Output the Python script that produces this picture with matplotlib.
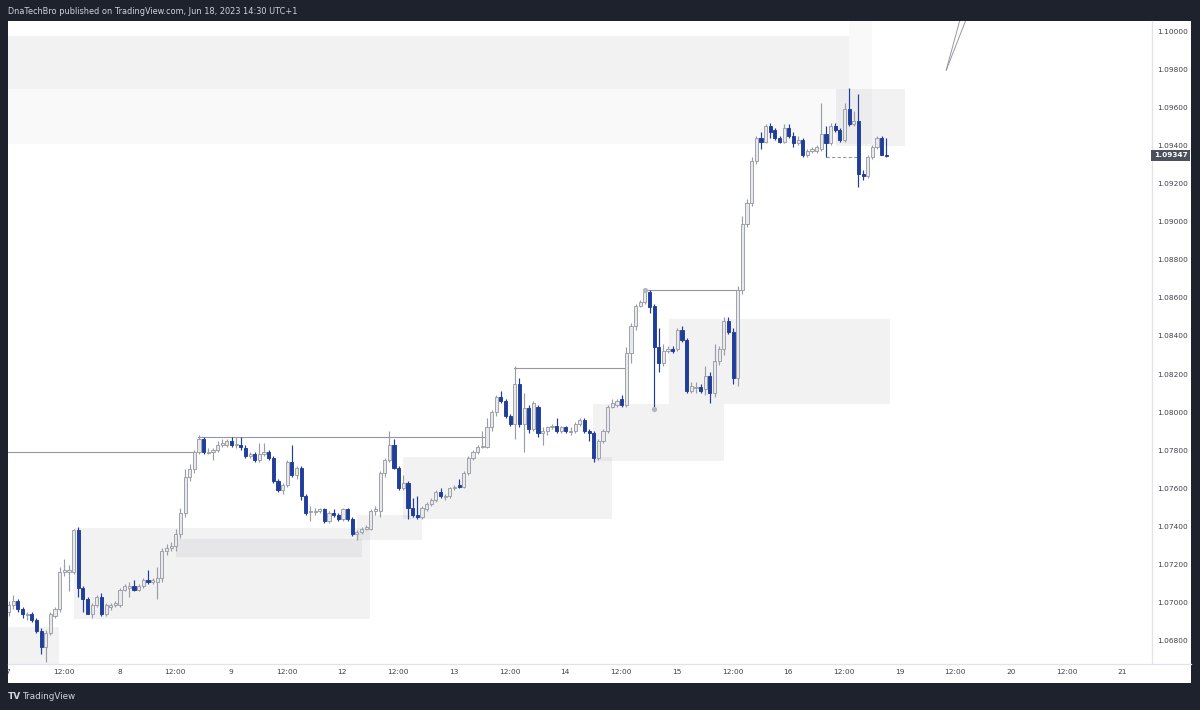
import matplotlib
matplotlib.use("Agg")
import matplotlib.pyplot as plt
from matplotlib.patches import Rectangle
import matplotlib.transforms as mtransforms

# ---------------- data (EURUSD 1h) ----------------
opens = [
    1.0695, 1.0699, 1.0701, 1.0697, 1.0694, 1.0694, 1.0691, 1.0685, 1.0677, 1.0684,
    1.0693, 1.0697, 1.0716, 1.0716, 1.0716, 1.0738, 1.0708, 1.0702, 1.0694, 1.0699,
    1.0703, 1.0694, 1.0698, 1.0699, 1.0699, 1.0707, 1.0708, 1.0709, 1.0707, 1.0709,
    1.0712, 1.0711, 1.0711, 1.0713, 1.0727, 1.0729, 1.0730, 1.0736, 1.0747, 1.0766,
    1.0770, 1.0779, 1.0786, 1.0779, 1.0779, 1.0780, 1.0783, 1.0783, 1.0785, 1.0783,
    1.0783, 1.0781, 1.0777, 1.0778, 1.0775, 1.0778, 1.0779, 1.0776, 1.0764, 1.0759,
    1.0762, 1.0774, 1.0767, 1.0771, 1.0756, 1.0748, 1.0748, 1.0748, 1.0749, 1.0743,
    1.0747, 1.0746, 1.0744, 1.0749, 1.0744, 1.0736, 1.0737, 1.0739, 1.0739, 1.0748,
    1.0748, 1.0768, 1.0775, 1.0783, 1.0771, 1.0760, 1.0763, 1.0750, 1.0746, 1.0745,
    1.0749, 1.0752, 1.0754, 1.0758, 1.0756, 1.0756, 1.0760, 1.0762, 1.0761, 1.0768,
    1.0776, 1.0779, 1.0782, 1.0782, 1.0792, 1.0800, 1.0808, 1.0806, 1.0798, 1.0794,
    1.0815, 1.0794, 1.0802, 1.0791, 1.0803, 1.0789, 1.0790, 1.0792, 1.0793, 1.0790,
    1.0792, 1.0790, 1.0790, 1.0794, 1.0796, 1.0790, 1.0789, 1.0776, 1.0785, 1.0790,
    1.0803, 1.0804, 1.0807, 1.0804, 1.0831, 1.0845, 1.0856, 1.0858, 1.0863, 1.0856,
    1.0834, 1.0826, 1.0832, 1.0833, 1.0833, 1.0843, 1.0838, 1.0811, 1.0813, 1.0813,
    1.0812, 1.0819, 1.0810, 1.0827, 1.0833, 1.0848, 1.0842, 1.0818, 1.0864, 1.0899,
    1.0910, 1.0932, 1.0944, 1.0942, 1.0950, 1.0948, 1.0944, 1.0942, 1.0949, 1.0945,
    1.0941, 1.0943, 1.0935, 1.0937, 1.0937, 1.0938, 1.0946, 1.0941, 1.0950, 1.0948,
    1.0943, 1.0959, 1.0951, 1.0953, 1.0925, 1.0924, 1.0934, 1.0939, 1.0944, 1.0935,
]
highs = [
    1.0701, 1.0704, 1.0702, 1.0698, 1.0695, 1.0695, 1.0692, 1.0687, 1.0686, 1.0695,
    1.0698, 1.0719, 1.0723, 1.0720, 1.0739, 1.0740, 1.0709, 1.0703, 1.0700, 1.0704,
    1.0705, 1.0700, 1.0700, 1.0701, 1.0708, 1.0710, 1.0711, 1.0712, 1.0710, 1.0713,
    1.0717, 1.0713, 1.0719, 1.0729, 1.0731, 1.0732, 1.0739, 1.0750, 1.0770, 1.0773,
    1.0780, 1.0788, 1.0787, 1.0781, 1.0781, 1.0785, 1.0786, 1.0786, 1.0787, 1.0787,
    1.0787, 1.0783, 1.0779, 1.0779, 1.0784, 1.0784, 1.0780, 1.0777, 1.0765, 1.0763,
    1.0775, 1.0783, 1.0772, 1.0772, 1.0757, 1.0751, 1.0750, 1.0750, 1.0750, 1.0748,
    1.0749, 1.0747, 1.0750, 1.0750, 1.0745, 1.0738, 1.0740, 1.0741, 1.0749, 1.0751,
    1.0769, 1.0776, 1.0790, 1.0786, 1.0772, 1.0767, 1.0764, 1.0755, 1.0756, 1.0751,
    1.0753, 1.0755, 1.0759, 1.0760, 1.0757, 1.0761, 1.0762, 1.0765, 1.0769, 1.0777,
    1.0780, 1.0783, 1.0790, 1.0797, 1.0801, 1.0809, 1.0811, 1.0807, 1.0799, 1.0824,
    1.0818, 1.0810, 1.0804, 1.0806, 1.0804, 1.0792, 1.0793, 1.0794, 1.0797, 1.0793,
    1.0793, 1.0792, 1.0795, 1.0797, 1.0797, 1.0791, 1.0790, 1.0786, 1.0791, 1.0804,
    1.0807, 1.0807, 1.0809, 1.0834, 1.0847, 1.0857, 1.0859, 1.0864, 1.0864, 1.0857,
    1.0844, 1.0836, 1.0835, 1.0835, 1.0844, 1.0845, 1.0839, 1.0816, 1.0816, 1.0815,
    1.0824, 1.0821, 1.0836, 1.0835, 1.0850, 1.0850, 1.0844, 1.0866, 1.0903, 1.0912,
    1.0934, 1.0945, 1.0947, 1.0951, 1.0952, 1.0949, 1.0945, 1.0951, 1.0951, 1.0947,
    1.0945, 1.0944, 1.0938, 1.0939, 1.0940, 1.0962, 1.0950, 1.0952, 1.0952, 1.0949,
    1.0962, 1.0970, 1.0958, 1.0967, 1.0927, 1.0935, 1.0940, 1.0945, 1.0945, 1.0944,
]
lows = [
    1.0693, 1.0697, 1.0695, 1.0692, 1.0691, 1.0690, 1.0684, 1.0673, 1.0669, 1.0683,
    1.0692, 1.0695, 1.0714, 1.0706, 1.0715, 1.0703, 1.0695, 1.0694, 1.0692, 1.0698,
    1.0693, 1.0693, 1.0696, 1.0698, 1.0698, 1.0706, 1.0703, 1.0706, 1.0706, 1.0708,
    1.0710, 1.0710, 1.0702, 1.0711, 1.0725, 1.0727, 1.0727, 1.0734, 1.0745, 1.0764,
    1.0768, 1.0778, 1.0778, 1.0778, 1.0775, 1.0779, 1.0782, 1.0782, 1.0782, 1.0781,
    1.0780, 1.0776, 1.0776, 1.0774, 1.0774, 1.0777, 1.0775, 1.0763, 1.0758, 1.0757,
    1.0761, 1.0766, 1.0765, 1.0754, 1.0746, 1.0743, 1.0746, 1.0747, 1.0742, 1.0742,
    1.0745, 1.0743, 1.0743, 1.0743, 1.0735, 1.0733, 1.0736, 1.0738, 1.0738, 1.0746,
    1.0745, 1.0766, 1.0774, 1.0770, 1.0759, 1.0759, 1.0744, 1.0745, 1.0744, 1.0744,
    1.0748, 1.0751, 1.0753, 1.0755, 1.0754, 1.0755, 1.0759, 1.0760, 1.0760, 1.0767,
    1.0775, 1.0778, 1.0781, 1.0781, 1.0790, 1.0798, 1.0805, 1.0797, 1.0793, 1.0786,
    1.0792, 1.0779, 1.0789, 1.0790, 1.0787, 1.0783, 1.0788, 1.0791, 1.0789, 1.0789,
    1.0789, 1.0788, 1.0789, 1.0793, 1.0789, 1.0785, 1.0774, 1.0775, 1.0784, 1.0789,
    1.0802, 1.0803, 1.0803, 1.0803, 1.0826, 1.0843, 1.0855, 1.0857, 1.0852, 1.0801,
    1.0821, 1.0824, 1.0831, 1.0831, 1.0832, 1.0837, 1.0810, 1.0810, 1.0810, 1.0810,
    1.0809, 1.0805, 1.0808, 1.0825, 1.0830, 1.0841, 1.0815, 1.0814, 1.0862, 1.0897,
    1.0908, 1.0930, 1.0938, 1.0941, 1.0944, 1.0943, 1.0941, 1.0941, 1.0944, 1.0939,
    1.0940, 1.0934, 1.0934, 1.0936, 1.0936, 1.0937, 1.0934, 1.0940, 1.0947, 1.0942,
    1.0942, 1.0950, 1.0950, 1.0918, 1.0922, 1.0923, 1.0933, 1.0938, 1.0935, 1.0934,
]
closes = [
    1.0699, 1.0701, 1.0697, 1.0694, 1.0694, 1.0691, 1.0685, 1.0677, 1.0684, 1.0694,
    1.0697, 1.0716, 1.0717, 1.0717, 1.0738, 1.0708, 1.0702, 1.0694, 1.0699, 1.0703,
    1.0694, 1.0699, 1.0699, 1.0700, 1.0707, 1.0709, 1.0709, 1.0707, 1.0709, 1.0712,
    1.0711, 1.0712, 1.0713, 1.0727, 1.0729, 1.0730, 1.0736, 1.0747, 1.0766, 1.0770,
    1.0779, 1.0786, 1.0779, 1.0779, 1.0780, 1.0783, 1.0784, 1.0785, 1.0783, 1.0783,
    1.0782, 1.0777, 1.0778, 1.0775, 1.0778, 1.0779, 1.0776, 1.0764, 1.0759, 1.0762,
    1.0774, 1.0767, 1.0771, 1.0756, 1.0747, 1.0748, 1.0748, 1.0749, 1.0743, 1.0747,
    1.0746, 1.0744, 1.0749, 1.0744, 1.0736, 1.0737, 1.0739, 1.0740, 1.0748, 1.0749,
    1.0768, 1.0775, 1.0783, 1.0771, 1.0760, 1.0763, 1.0750, 1.0746, 1.0745, 1.0750,
    1.0752, 1.0754, 1.0758, 1.0756, 1.0756, 1.0760, 1.0761, 1.0761, 1.0768, 1.0776,
    1.0779, 1.0782, 1.0782, 1.0792, 1.0800, 1.0808, 1.0806, 1.0798, 1.0794, 1.0815,
    1.0794, 1.0802, 1.0791, 1.0805, 1.0789, 1.0790, 1.0792, 1.0793, 1.0790, 1.0792,
    1.0790, 1.0790, 1.0794, 1.0796, 1.0790, 1.0789, 1.0776, 1.0785, 1.0790, 1.0803,
    1.0805, 1.0806, 1.0804, 1.0831, 1.0845, 1.0856, 1.0858, 1.0863, 1.0855, 1.0834,
    1.0826, 1.0832, 1.0833, 1.0832, 1.0843, 1.0838, 1.0811, 1.0814, 1.0813, 1.0811,
    1.0819, 1.0810, 1.0827, 1.0833, 1.0848, 1.0842, 1.0818, 1.0864, 1.0899, 1.0910,
    1.0932, 1.0944, 1.0942, 1.0950, 1.0947, 1.0944, 1.0942, 1.0949, 1.0945, 1.0941,
    1.0943, 1.0935, 1.0937, 1.0938, 1.0939, 1.0946, 1.0941, 1.0950, 1.0948, 1.0943,
    1.0959, 1.0951, 1.0953, 1.0925, 1.0924, 1.0934, 1.0939, 1.0944, 1.0935, 1.09347,
]

time_labels = ["7", "12:00", "8", "12:00", "9", "12:00", "12", "12:00", "13", "12:00",
               "14", "12:00", "15", "12:00", "16", "12:00", "19", "12:00", "20", "12:00", "21"]
price_ticks = [1.068, 1.070, 1.072, 1.074, 1.076, 1.078, 1.080, 1.082, 1.084, 1.086,
               1.088, 1.090, 1.092, 1.094, 1.096, 1.098, 1.100]
last_price = 1.09347

# zones: (start bar, end bar, low price, high price)
zones_light = [
    (-3, 10.8, 1.0660, 1.06875),
    (14.0, 77.9, 1.06915, 1.07394),
    (36.0, 76.1, 1.07242, 1.07333),
    (75.1, 89.1, 1.07330, 1.07461),
    (85.0, 130.0, 1.07438, 1.07767),
    (125.9, 154.0, 1.07744, 1.08043),
    (142.1, 189.8, 1.08043, 1.08488),
    (-3, 181.0, 1.09696, 1.09974),
    (178.2, 193.1, 1.09397, 1.09696),
]
zones_faint = [
    (-3, 185.9, 1.09407, 1.09696),
    (181.0, 185.9, 1.09696, 1.1010),
]
# horizontal levels: (start bar, end bar, price)
levels = [
    (-3, 40.2, 1.07791),
    (40.8, 102.4, 1.07869),
    (108.9, 132.8, 1.08234),
    (137.1, 157.5, 1.08641),
]
dashed_level = (176.0, 182.7, 1.09341)
marker_bars = [137, 139]
marker_prices = [1.08641, 1.08017]
ray_start = (201.9, 1.09795)
ray_ends = [(205.3, 1.1010), (206.8, 1.1010)]

# ---------------- figure ----------------
W, H = 1200, 710
fig = plt.figure(figsize=(W / 100, H / 100), dpi=100, facecolor="#1e222d")
fig.add_artist(Rectangle((8 / W, (H - 683) / H), (1191 - 8) / W, (683 - 21) / H,
                         transform=fig.transFigure, facecolor="white",
                         edgecolor="none", zorder=0))

ax = fig.add_axes([8 / W, (H - 664) / H, (1152 - 8) / W, (664 - 21) / H])
ax.set_facecolor("white")
ax.set_xlim(-0.065, 246.2)
ax.set_ylim(1.066793, 1.100525)

zone_rgb = "#787b86"
for s, e, lo, hi in zones_light:
    ax.add_patch(Rectangle((s, lo), e - s, hi - lo, facecolor=zone_rgb,
                           alpha=0.095, edgecolor="none", zorder=1))
for s, e, lo, hi in zones_faint:
    ax.add_patch(Rectangle((s, lo), e - s, hi - lo, facecolor=zone_rgb,
                           alpha=0.045, edgecolor="none", zorder=1))

for s, e, p in levels:
    ax.plot([s, e], [p, p], color="#9598a1", lw=0.8, zorder=2)
ax.plot([dashed_level[0], dashed_level[1]], [dashed_level[2]] * 2,
        color="#9598a1", lw=0.8, ls=(0, (3, 2)), zorder=2)
for (xe, ye) in ray_ends:
    ax.plot([ray_start[0], xe], [ray_start[1], ye], color="#9598a1", lw=0.7, zorder=2)

bull_face, bull_edge = "#e8e9ec", "#9a9da6"
bear = "#1f3d99"
bw = 0.68
for i in range(len(opens)):
    o, h, l, c = opens[i], highs[i], lows[i], closes[i]
    up = c >= o
    col = bull_edge if up else bear
    ax.vlines(i, l, h, color=col, lw=0.85, zorder=3)
    lo_b, hi_b = min(o, c), max(o, c)
    if hi_b - lo_b < 0.00004:
        mid = (lo_b + hi_b) / 2
        lo_b, hi_b = mid - 0.00002, mid + 0.00002
    ax.add_patch(Rectangle((i - bw / 2, lo_b), bw, hi_b - lo_b,
                           facecolor=bull_face if up else bear,
                           edgecolor=col, lw=0.65, zorder=4))

ax.scatter(marker_bars, marker_prices, s=14, color="#b2b5be", zorder=5, lw=0)

# axes styling
for side in ["top", "left"]:
    ax.spines[side].set_visible(False)
for side in ["right", "bottom"]:
    ax.spines[side].set_color("#e0e3eb")
    ax.spines[side].set_linewidth(0.9)

ax.set_xticks([12 * j - 0.13 for j in range(len(time_labels))])
ax.set_xticklabels(time_labels)
ax.set_yticks(price_ticks)
ax.set_yticklabels([f"{p:.5f}" for p in price_ticks])
ax.yaxis.tick_right()
ax.tick_params(axis="x", length=0, pad=3.5, labelsize=5.3, labelcolor="#3d4049")
ax.tick_params(axis="y", length=0, pad=4, labelsize=5.3, labelcolor="#3d4049")

trans = mtransforms.blended_transform_factory(ax.transAxes, ax.transData)
ax.text(1.0015, last_price, f"{last_price:.5f}", transform=trans, ha="left",
        va="center", fontsize=5.3, color="white", fontweight="bold",
        bbox=dict(boxstyle="square,pad=0.35", fc="#4c505b", ec="none"), zorder=10,
        clip_on=False)

# bottom axis line continuation under price scale
fig.add_artist(plt.Line2D([1152 / W, 1191 / W], [(H - 664) / H] * 2,
                          transform=fig.transFigure, color="#e0e3eb", lw=0.9))

fig.text(8 / W, 1 - 11 / H, "DnaTechBro published on TradingView.com, Jun 18, 2023 14:30 UTC+1",
         color="#d1d4dc", fontsize=5.9, va="center", ha="left")
fig.text(8 / W, 1 - 696.5 / H, "TV", color="#d1d4dc", fontsize=6.5, fontweight="bold",
         va="center", ha="left")
fig.text(22 / W, 1 - 696.5 / H, "TradingView", color="#d1d4dc", fontsize=6.3,
         va="center", ha="left")

fig.savefig("out.png", dpi=100, facecolor=fig.get_facecolor())
